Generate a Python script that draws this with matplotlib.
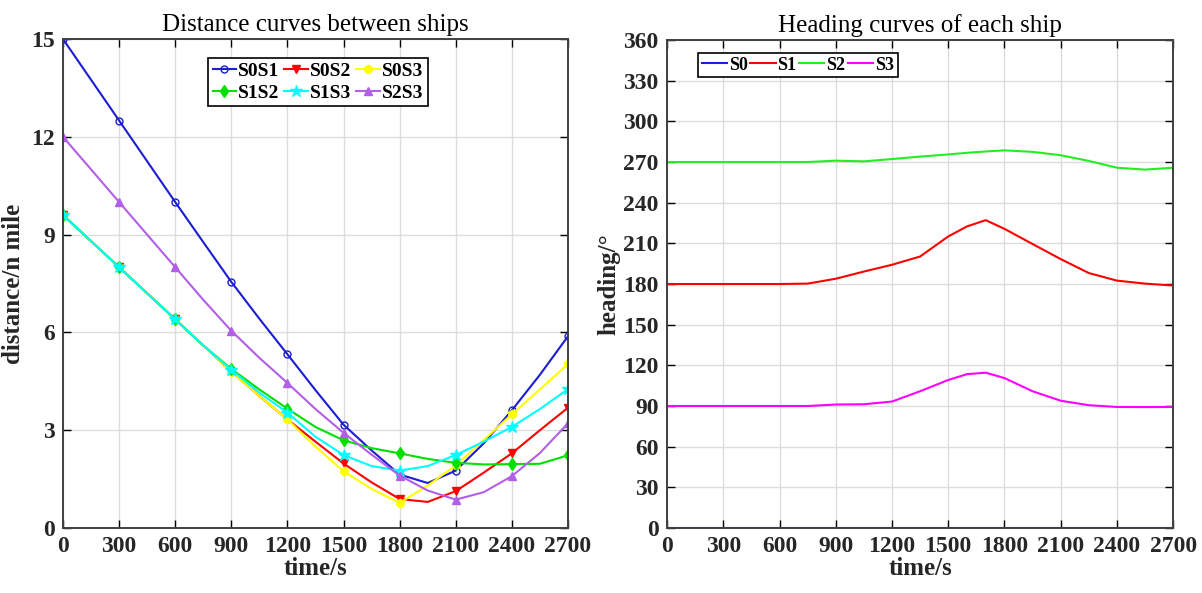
import numpy as np
import matplotlib
matplotlib.use('Agg')
import matplotlib.pyplot as plt

plt.rcParams['font.family'] = ['Liberation Serif', 'DejaVu Serif']
plt.rcParams['mathtext.fontset'] = 'stix'

# distance between ships, read every 150 s
t_dist = [0, 150, 300, 450, 600, 750, 900, 1050, 1200, 1350, 1500, 1650, 1800, 1950, 2100, 2250, 2400, 2550, 2700]
s0s1 = [15.0, 13.75, 12.5, 11.25, 10.0, 8.77, 7.55, 6.42, 5.33, 4.23, 3.17, 2.38, 1.64, 1.38, 1.76, 2.6, 3.61, 4.7, 5.88]
s0s2 = [9.6, 8.8, 8.0, 7.2, 6.4, 5.6, 4.8, 4.05, 3.33, 2.65, 1.98, 1.4, 0.89, 0.8, 1.13, 1.7, 2.29, 3.0, 3.69]
s0s3 = [9.6, 8.8, 8.0, 7.2, 6.4, 5.6, 4.8, 4.05, 3.33, 2.5, 1.74, 1.2, 0.77, 1.3, 1.92, 2.7, 3.49, 4.25, 5.03]
s1s2 = [9.6, 8.8, 8.0, 7.2, 6.4, 5.6, 4.88, 4.25, 3.66, 3.1, 2.69, 2.45, 2.29, 2.12, 2.0, 1.95, 1.96, 1.97, 2.23]
s1s3 = [9.6, 8.8, 8.0, 7.2, 6.4, 5.6, 4.85, 4.15, 3.54, 2.8, 2.24, 1.9, 1.76, 1.9, 2.24, 2.65, 3.1, 3.65, 4.26]
s2s3 = [12.0, 11.0, 10.0, 9.0, 8.0, 7.0, 6.05, 5.22, 4.45, 3.65, 2.92, 2.25, 1.61, 1.15, 0.87, 1.1, 1.59, 2.3, 3.21]

# heading of each ship
t_head = [0, 150, 300, 450, 600, 750, 900, 1050, 1200, 1350, 1500, 1600, 1700, 1800, 1950, 2100, 2250, 2400, 2550, 2700]
h_s0 = [0] * 20
h_s1 = [180, 180, 180, 180, 180, 180.3, 183.9, 189.2, 194.2, 200.3, 215.1, 222.5, 227.1, 220.7, 209.5, 198.4, 188.1, 182.5, 180.3, 178.9]
h_s2 = [270, 270, 270, 270, 270, 270, 271, 270.5, 272.2, 274, 275.6, 276.8, 277.8, 278.6, 277.5, 275, 270.8, 265.8, 264.4, 265.8]
h_s3 = [90, 90, 90, 90, 90, 90, 91.1, 91.3, 93.3, 100.9, 109.2, 113.5, 114.6, 110.6, 100.9, 93.9, 90.6, 89.3, 89.2, 89.3]

fig = plt.figure(figsize=(12.02, 5.93), dpi=100)
ax1 = fig.add_axes([0.0524, 0.1096, 0.4201, 0.8246])
ax2 = fig.add_axes([0.555, 0.1096, 0.421, 0.8229])


def style_axes(ax):
    ax.grid(True, color='#dcdcdc', linewidth=1.0)
    ax.set_axisbelow(True)
    ax.tick_params(direction='in', top=True, right=True, length=6, width=1.0, pad=6,
                   labelcolor='#262626')
    for sp in ax.spines.values():
        sp.set_color('#404040')
        sp.set_linewidth(1.4)
    for lab in ax.get_xticklabels() + ax.get_yticklabels():
        lab.set_fontsize(17)
        lab.set_fontweight('bold')


mk = list(range(0, len(t_dist), 2))
l1, = ax1.plot(t_dist, s0s1, color='#1c1cd0', marker='o', mfc='none', ms=5, lw=1.5, markevery=mk, label='S0S1')
l2, = ax1.plot(t_dist, s0s2, color='#ff0000', marker='v', ms=6, lw=1.5, markevery=mk, label='S0S2')
l3, = ax1.plot(t_dist, s0s3, color='#ffff00', marker='h', ms=6, lw=1.5, markevery=mk, label='S0S3')
l4, = ax1.plot(t_dist, s1s2, color='#00e000', marker='d', ms=6, lw=1.5, markevery=mk, label='S1S2')
l5, = ax1.plot(t_dist, s1s3, color='#00ffff', marker='*', ms=9, lw=1.5, markevery=mk, label='S1S3')
l6, = ax1.plot(t_dist, s2s3, color='#b25ee6', marker='^', ms=6, lw=1.5, markevery=mk, label='S2S3')
ax1.set_xlim(0, 2700)
ax1.set_ylim(0, 15)
ax1.set_xticks(np.arange(0, 2701, 300))
ax1.set_yticks(np.arange(0, 15.1, 3))
style_axes(ax1)
ax1.set_xlabel('time/s', fontsize=18, fontweight='bold', labelpad=0, color='#262626')
ax1.set_ylabel('distance/n mile', fontsize=18, fontweight='bold', labelpad=4, color='#262626')
ax1.set_title('Distance curves between ships', fontsize=18, pad=6)
# row-wise order like the original legend
order = [l1, l4, l2, l5, l3, l6]
leg1 = ax1.legend(order, [h.get_label() for h in order], loc='upper center',
                  bbox_to_anchor=(0.505, 0.962), ncol=3,
                  prop={'size': 14, 'weight': 'bold'}, fancybox=False, edgecolor='black',
                  framealpha=1, handlelength=1.2, handletextpad=0.12, columnspacing=0.25,
                  labelspacing=0.2, borderpad=0.25, borderaxespad=0)
leg1.get_frame().set_linewidth(1.2)

ax2.plot(t_head, h_s0, color='#1c1ce0', lw=1.5, label='S0')
ax2.plot(t_head, h_s1, color='#ff0000', lw=1.5, label='S1')
ax2.plot(t_head, h_s2, color='#22ee22', lw=1.5, label='S2')
ax2.plot(t_head, h_s3, color='#ff00ff', lw=1.5, label='S3')
ax2.set_xlim(0, 2700)
ax2.set_ylim(0, 360)
ax2.set_xticks(np.arange(0, 2701, 300))
ax2.set_yticks(np.arange(0, 361, 30))
style_axes(ax2)
ax2.set_xlabel('time/s', fontsize=18, fontweight='bold', labelpad=0, color='#262626')
ax2.set_ylabel('heading/°', fontsize=18, fontweight='bold', labelpad=2, color='#262626')
ax2.set_title('Heading curves of each ship', fontsize=18, pad=6)
leg2 = ax2.legend(loc='upper left', bbox_to_anchor=(0.061, 0.973), ncol=4,
                  prop={'size': 13, 'weight': 'bold'}, fancybox=False, edgecolor='black',
                  framealpha=1, handlelength=1.4, handletextpad=0.1, columnspacing=0.15,
                  borderpad=0.2, borderaxespad=0)
leg2.get_frame().set_linewidth(1.2)

fig.savefig('out.png', dpi=100)
